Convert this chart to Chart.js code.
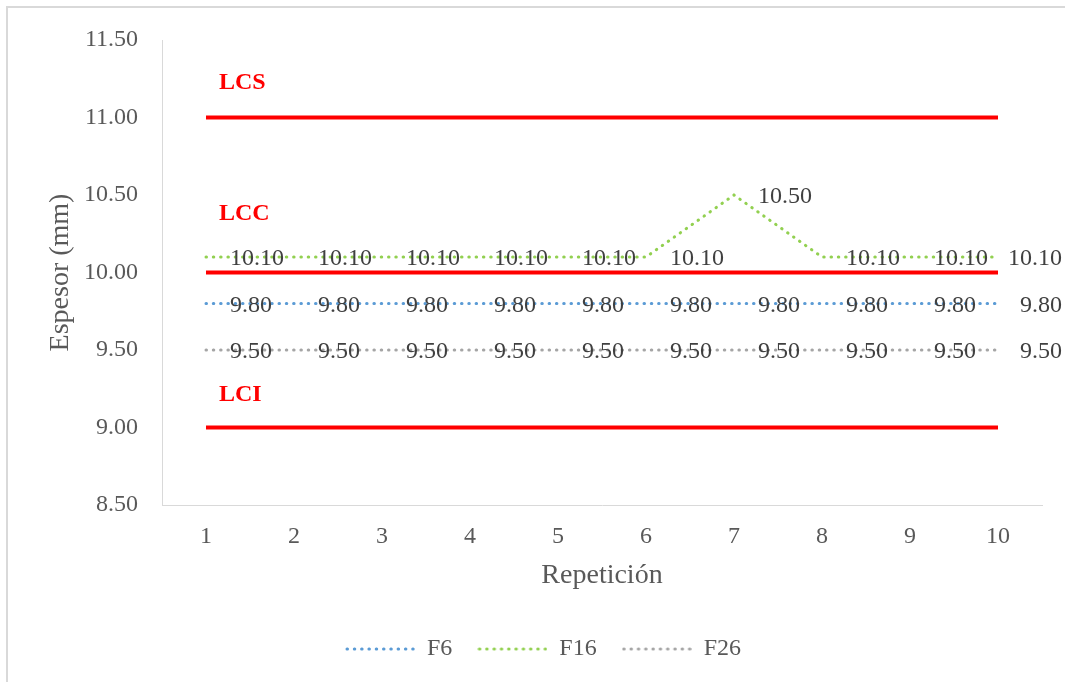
<!DOCTYPE html>
<html>
<head>
<meta charset="utf-8">
<script src="https://cdn.jsdelivr.net/npm/chart.js@4"></script>
<style>
  body { margin: 0; background: #fff; overflow: hidden; }
  #frame { position: absolute; left: 6px; top: 6px; width: 1100px; height: 700px;
           border-top: 2px solid #d9d9d9; border-left: 2px solid #d9d9d9; }
  #myChart { position: absolute; left: 0; top: 0; }
</style>
</head>
<body>
<div id="frame"></div>
<canvas id="myChart" width="1065" height="682"></canvas>
<script>
// datos
const repeticiones = ['1', '2', '3', '4', '5', '6', '7', '8', '9', '10'];
const f6 = [9.80, 9.80, 9.80, 9.80, 9.80, 9.80, 9.80, 9.80, 9.80, 9.80];
const f16 = [10.10, 10.10, 10.10, 10.10, 10.10, 10.10, 10.50, 10.10, 10.10, 10.10];
const f26 = [9.50, 9.50, 9.50, 9.50, 9.50, 9.50, 9.50, 9.50, 9.50, 9.50];
const lcs = [11, 11, 11, 11, 11, 11, 11, 11, 11, 11];
const lcc = [10, 10, 10, 10, 10, 10, 10, 10, 10, 10];
const lci = [9, 9, 9, 9, 9, 9, 9, 9, 9, 9];
const yTicks = [8.5, 9.0, 9.5, 10.0, 10.5, 11.0, 11.5];

const serif = "'Liberation Serif', 'Times New Roman', serif";
const dash = [0.5, 6.8];

// etiquetas de los limites (texto en rojo)
const limitLabels = [
    { text: 'LCS', value: 11, dy: -35 },
    { text: 'LCC', value: 10, dy: -59 },
    { text: 'LCI', value: 9, dy: -33 }
];

// muestra punteada para la leyenda
function dottedSample(color) {
    const c = document.createElement('canvas');
    c.width = 70;
    c.height = 6;
    const g = c.getContext('2d');
    g.strokeStyle = color;
    g.lineWidth = 3;
    g.lineCap = 'round';
    g.setLineDash(dash);
    g.beginPath();
    g.moveTo(2, 3);
    g.lineTo(69, 3);
    g.stroke();
    return c;
}

const labelsPlugin = {
    id: 'labelsPlugin',
    afterDatasetsDraw(chart) {
        const ctx = chart.ctx;
        const x = chart.scales.x;
        const y = chart.scales.y;
        ctx.save();
        ctx.textBaseline = 'middle';
        ctx.textAlign = 'left';
        // valores de cada serie
        ctx.font = '24px ' + serif;
        ctx.fillStyle = '#404040';
        chart.data.datasets.forEach((ds, i) => {
            if (!ds.showValues) return;
            chart.getDatasetMeta(i).data.forEach((pt, j) => {
                const txt = ds.data[j].toFixed(2);
                const w = ctx.measureText(txt).width;
                const px = Math.min(pt.x + 24, chart.width - 3 - w);
                ctx.fillText(txt, px, pt.y + 2);
            });
        });
        // LCS / LCC / LCI
        ctx.font = 'bold 24px ' + serif;
        ctx.fillStyle = '#ff0000';
        limitLabels.forEach(l => {
            ctx.fillText(l.text, x.getPixelForValue(0) + 13, y.getPixelForValue(l.value) + l.dy);
        });
        ctx.restore();
    }
};

function limite(label, data) {
    return {
        label: label,
        data: data,
        borderColor: '#ff0000',
        borderWidth: 4,
        pointRadius: 0,
        fill: false
    };
}

function serie(label, data, color) {
    return {
        label: label,
        data: data,
        borderColor: color,
        backgroundColor: color,
        borderWidth: 3,
        borderDash: dash,
        borderCapStyle: 'round',
        pointRadius: 0,
        pointStyle: dottedSample(color),
        showValues: true,
        fill: false
    };
}

const ctx = document.getElementById('myChart').getContext('2d');
const myChart = new Chart(ctx, {
    type: 'line',
    data: {
        labels: repeticiones,
        datasets: [
            limite('LCS', lcs),
            limite('LCC', lcc),
            limite('LCI', lci),
            serie('F6', f6, '#5b9bd5'),
            serie('F16', f16, '#92d050'),
            serie('F26', f26, '#a5a5a5')
        ]
    },
    options: {
        responsive: false,
        animation: false,
        layout: { padding: { left: 44, right: 23, top: 40, bottom: 11 } },
        plugins: {
            tooltip: { enabled: false },
            legend: {
                position: 'bottom',
                labels: {
                    filter: item => ['F6', 'F16', 'F26'].includes(item.text),
                    usePointStyle: true,
                    pointStyleWidth: 70,
                    padding: 25,
                    color: '#595959',
                    font: { family: serif, size: 24 }
                }
            }
        },
        scales: {
            x: {
                offset: true,
                grid: { display: false, drawTicks: false },
                border: { display: true, color: '#d9d9d9', width: 1 },
                ticks: { color: '#595959', padding: 17, font: { family: serif, size: 24 } },
                title: {
                    display: true,
                    text: 'Repetición',
                    color: '#595959',
                    font: { family: serif, size: 28 },
                    padding: { top: 0, bottom: 20 }
                },
                afterFit: s => { s.height = 107; }
            },
            y: {
                min: 8.5,
                max: 11.5,
                afterBuildTicks: s => { s.ticks = yTicks.map(v => ({ value: v })); },
                grid: { display: false, drawTicks: false },
                border: { display: true, color: '#d9d9d9', width: 1 },
                ticks: {
                    color: '#595959',
                    padding: 24,
                    font: { family: serif, size: 24 },
                    callback: v => Number(v).toFixed(2)
                },
                title: {
                    display: true,
                    text: 'Espesor (mm)',
                    color: '#595959',
                    font: { family: serif, size: 28 },
                    padding: { top: 0, bottom: 0 }
                },
                afterFit: s => { s.width = 118; }
            }
        }
    },
    plugins: [labelsPlugin]
});
</script>
</body>
</html>
